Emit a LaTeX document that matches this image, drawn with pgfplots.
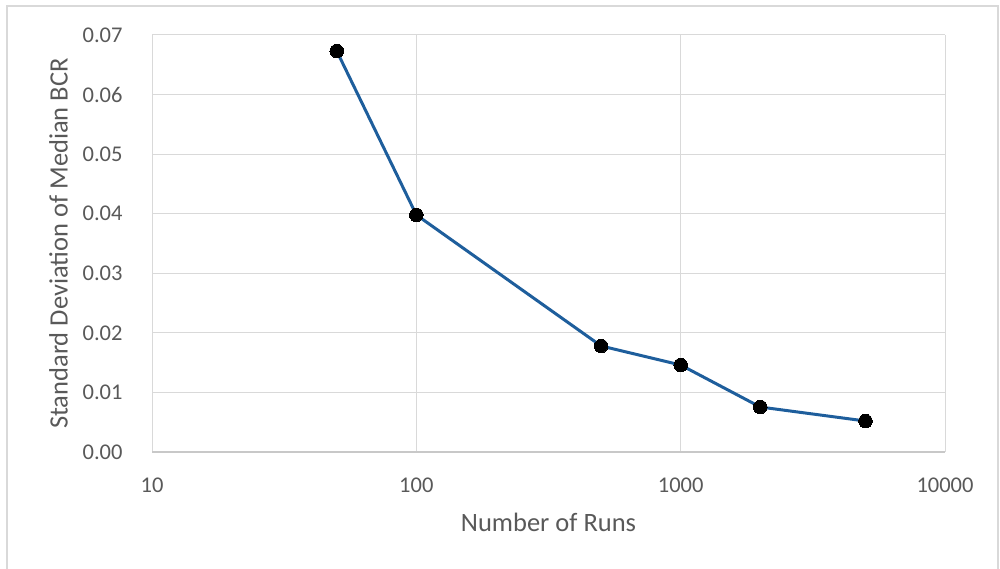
\documentclass[border=0pt]{standalone}
\usepackage{pgfplots}
\pgfplotsset{compat=1.18}
\usepackage{fontspec}
\setmainfont{Carlito}
\definecolor{tickgray}{RGB}{89,89,89}
\definecolor{gridgray}{RGB}{217,217,217}
\definecolor{axisgray}{RGB}{200,200,200}
\definecolor{frame}{RGB}{217,217,217}
\definecolor{lineblue}{RGB}{30,94,156}
\begin{document}
\begin{tikzpicture}[x=1bp,y=1bp]
\path[use as bounding box] (0,0) rectangle (1000,569);
\draw[color=frame, line width=1.5bp] (7,0) -- (7,563) -- (998,563) -- (998,0);
\begin{axis}[
  at={(152bp,117bp)}, anchor=south west,
  scale only axis, width=793bp, height=417bp,
  xmode=log, xmin=10, xmax=10000, ymin=0, ymax=0.07,
  xtick={10,100,1000,10000}, xticklabels={10,100,1000,10000},
  ytick={0,0.01,0.02,0.03,0.04,0.05,0.06,0.07},
  minor xtick={},
  scaled y ticks=false,
  /pgf/number format/fixed, /pgf/number format/fixed zerofill, /pgf/number format/precision=2,
  /pgf/number format/assume math mode=true,
  tick style={draw=none},
  grid=major, major grid style={color=gridgray, line width=1bp},
  axis line style={draw=none},
  ticklabel style={font=\fontsize{22.5bp}{26bp}\selectfont, text=tickgray},
  xticklabel style={anchor=north, yshift=-22bp},
  yticklabel style={anchor=east, xshift=-26bp},
  xlabel={Number of Runs}, ylabel={Standard Deviation of Median BCR},
  label style={font=\fontsize{26.5bp}{30bp}\selectfont, text=tickgray},
  xlabel style={yshift=-14bp},
  ylabel style={yshift=8bp},
  clip=false,
]
\draw[color=axisgray, line width=1.5bp] (rel axis cs:0,0) -- (rel axis cs:1,0);
\addplot[color=lineblue, line width=3bp, mark=*, mark size=6.8bp, mark options={fill=black, draw=black, line width=0pt}]
coordinates {(50,0.0673) (100,0.0398) (500,0.0178) (1000,0.0146) (2000,0.00755) (5000,0.0052)};
\end{axis}
\end{tikzpicture}
\end{document}
